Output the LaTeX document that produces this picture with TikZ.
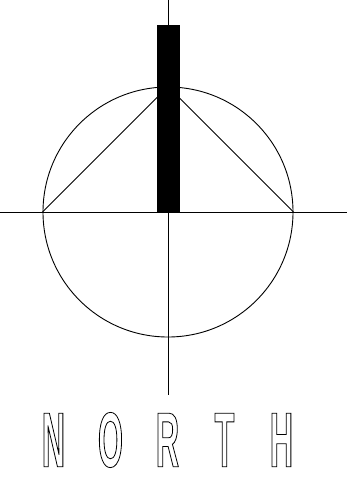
\documentclass[tikz,border=0pt]{standalone}
\usepackage{fontspec}
\newfontfamily\northfont[FakeStretch=0.41]{Liberation Sans Bold}
\definecolor{northInk}{HTML}{000000}
\newcommand{\hollow}[1]{\special{pdf:literal direct 1 Tr 0.8 w}#1\special{pdf:literal direct 0 Tr}}
\tikzset{
  northLine/.style={draw=northInk,line width=0.9pt},
  northNeedle/.style={fill=northInk,draw=none,inner sep=0pt},
  northLetter/.style={inner sep=0pt,text=northInk,font=\northfont\fontsize{78}{78}\selectfont}
}
\begin{document}
\begin{tikzpicture}[x=1pt,y=-1pt]
\useasboundingbox (0,0) rectangle (347,496);
\coordinate (axisTop) at (168,0);
\coordinate (axisBottom) at (168,395);
\coordinate (axisWest) at (0,212);
\coordinate (axisEast) at (347,212);
\draw[northLine] (axisTop) -- (axisBottom);
\draw[northLine] (axisWest) -- (axisEast);
\node[northLine,circle,minimum size=250pt,inner sep=0pt] (dial) at (168,212) {};
\draw[northLine] (dial.west) -- (dial.north) -- (dial.east);
\node[northNeedle,minimum width=23pt,minimum height=187pt,anchor=south] (needle) at (dial.center) {};
\foreach \ch [count=\i] in {N,O,R,T,H}
  \node[northLetter] (letter\i) at ({53.5+57*(\i-1)},440) {\hollow{\ch}};
\end{tikzpicture}
\end{document}
